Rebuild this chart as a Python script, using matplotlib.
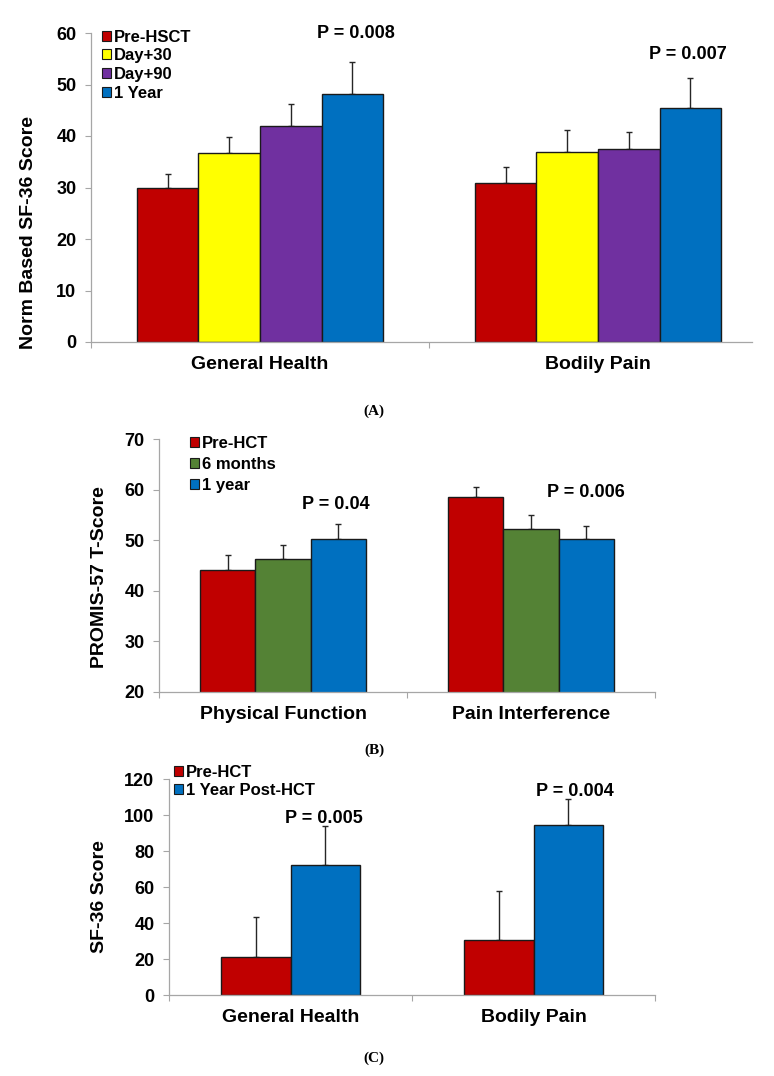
import matplotlib
matplotlib.use('Agg')
import matplotlib.pyplot as plt
from matplotlib.patches import Patch

plt.rcParams['font.family'] = ['Liberation Sans', 'DejaVu Sans']
plt.rcParams['font.weight'] = 'bold'

# panel A: norm based SF-36
sf_categories = ['General Health', 'Bodily Pain']
sf_groups = ['Pre-HSCT', 'Day+30', 'Day+90', '1 Year']
sf_means = [[30.0, 30.9], [36.7, 36.8], [42.0, 37.5], [48.1, 45.4]]
sf_errs = [[2.6, 3.0], [3.1, 4.3], [4.3, 3.3], [6.2, 5.9]]
sf_pvalues = ['P = 0.008', 'P = 0.007']

# panel B: PROMIS-57
promis_categories = ['Physical Function', 'Pain Interference']
promis_groups = ['Pre-HCT', '6 months', '1 year']
promis_means = [[44.1, 58.5], [46.2, 52.3], [50.2, 50.2]]
promis_errs = [[2.9, 2.0], [2.9, 2.7], [3.1, 2.7]]
promis_pvalues = ['P = 0.04', 'P = 0.006']

# panel C: SF-36 raw score
sf36_categories = ['General Health', 'Bodily Pain']
sf36_groups = ['Pre-HCT', '1 Year Post-HCT']
sf36_means = [[21.1, 30.6], [72.2, 94.3]]
sf36_errs = [[22.2, 27.3], [21.7, 14.4]]
sf36_pvalues = ['P = 0.005', 'P = 0.004']

RED = '#C00000'
YELLOW = '#FFFF00'
PURPLE = '#7030A0'
BLUE = '#0070C0'
GREEN = '#548235'
AXIS_GRAY = '#A6A6A6'
EDGE = '#1a1a1a'


def draw_panel(ax, categories, groups, means, errs, colors, bar_w, ylim, yticks,
               tick_fs, legend_fs, legend_anchor, legend_spacing, end_tick=True):
    n = len(groups)
    xs = list(range(len(categories)))
    for i, g in enumerate(groups):
        offs = (i - (n - 1) / 2) * bar_w
        pos = [x + offs for x in xs]
        ax.bar(pos, means[i], width=bar_w, color=colors[i], edgecolor=EDGE,
               linewidth=1.0, zorder=2)
        ax.errorbar(pos, means[i], yerr=[[0] * len(xs), errs[i]], fmt='none',
                    ecolor='#262626', elinewidth=1.0, capsize=2.5, capthick=1.0,
                    zorder=1)
    ax.set_xlim(-0.5, len(categories) - 0.5)
    ax.set_ylim(*ylim)
    ax.set_yticks(yticks)
    ax.set_xticks(xs)
    ax.set_xticklabels(categories, fontsize=14, fontweight='bold')
    bounds = [x - 0.5 for x in range(len(categories) + 1)]
    if not end_tick:
        bounds = bounds[:-1]
    ax.set_xticks(bounds, minor=True)
    ax.tick_params(axis='x', which='major', length=0, pad=10)
    ax.tick_params(axis='x', which='minor', length=4.5, width=0.8, color=AXIS_GRAY)
    ax.tick_params(axis='y', length=4.5, width=0.8, color=AXIS_GRAY, pad=6,
                   labelsize=tick_fs)
    for lab in ax.get_yticklabels():
        lab.set_fontweight('bold')
    for s in ['top', 'right']:
        ax.spines[s].set_visible(False)
    for s in ['left', 'bottom']:
        ax.spines[s].set_color(AXIS_GRAY)
        ax.spines[s].set_linewidth(0.9)
    handles = [Patch(facecolor=c, edgecolor=EDGE, linewidth=0.8) for c in colors]
    ax.legend(handles, groups, loc='upper left', bbox_to_anchor=legend_anchor,
              frameon=False, handlelength=0.55,
              handleheight=0.55, handletextpad=0.2, labelspacing=legend_spacing,
              borderpad=0, borderaxespad=0,
              prop={'weight': 'bold', 'size': legend_fs})


fig = plt.figure(figsize=(7.74, 10.76), dpi=100)

# panel A
axA = fig.add_axes([91 / 774, 1 - 342 / 1076, 676 / 774, 309 / 1076])
draw_panel(axA, sf_categories, sf_groups, sf_means, sf_errs,
           [RED, YELLOW, PURPLE, BLUE], 0.182, (0, 60), range(0, 61, 10),
           13, 12, (0.016, 1.011), 0.22, end_tick=False)
axA.spines['bottom'].set_bounds(-0.5, 1.456)
axA.text(-0.093, 0.353, 'Norm Based SF-36 Score', transform=axA.transAxes,
         rotation=90, ha='center', va='center', fontsize=14, fontweight='bold')
axA.text(0.284, 60.0, sf_pvalues[0], ha='center', va='center', fontsize=13,
         fontweight='bold')
axA.text(1.266, 55.9, sf_pvalues[1], ha='center', va='center', fontsize=13,
         fontweight='bold')

# panel B
axB = fig.add_axes([159 / 774, 1 - 692 / 1076, 496 / 774, 253 / 1076])
draw_panel(axB, promis_categories, promis_groups, promis_means, promis_errs,
           [RED, GREEN, BLUE], 0.222, (20, 70), range(20, 71, 10),
           13, 12, (0.062, 1.011), 0.36)
axB.text(-0.119, 0.4545, 'PROMIS-57 T-Score', transform=axB.transAxes,
         rotation=90, ha='center', va='center', fontsize=14, fontweight='bold')
axB.text(0.214, 57.0, promis_pvalues[0], ha='center', va='center', fontsize=13,
         fontweight='bold')
axB.text(1.222, 59.5, promis_pvalues[1], ha='center', va='center', fontsize=13,
         fontweight='bold')

# panel C
axC = fig.add_axes([169 / 774, 1 - 995 / 1076, 486 / 774, 216 / 1076])
draw_panel(axC, sf36_categories, sf36_groups, sf36_means, sf36_errs,
           [RED, BLUE], 0.286, (0, 120), range(0, 121, 20),
           13, 12, (0.01, 1.066), 0.2)
axC.text(-0.142, 0.458, 'SF-36 Score', transform=axC.transAxes,
         rotation=90, ha='center', va='center', fontsize=14, fontweight='bold')
axC.text(0.138, 98.3, sf36_pvalues[0], ha='center', va='center', fontsize=13,
         fontweight='bold')
axC.text(1.171, 112.8, sf36_pvalues[1], ha='center', va='center', fontsize=13,
         fontweight='bold')

# panel letters
for lab, yy in [('(A)', 411), ('(B)', 750), ('(C)', 1058)]:
    fig.text(374 / 774, 1 - yy / 1076, lab, ha='center', va='center',
             fontsize=11, fontweight='bold', family='Liberation Serif')

fig.savefig('out.png', dpi=100)
